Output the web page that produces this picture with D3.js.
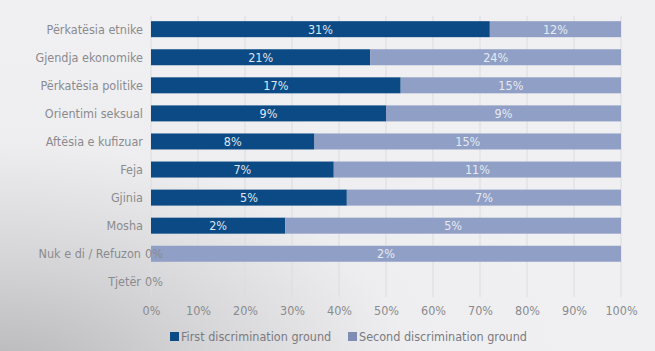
<!DOCTYPE html>
<html><head><meta charset="utf-8">
<script src="https://cdn.jsdelivr.net/npm/d3@7"></script>
<style>
html,body{margin:0;padding:0;background:#efeff1;}
svg{display:block;}
text{font-family:"Liberation Sans Narrow","DejaVu Sans Condensed","Roboto Condensed",sans-serif;}
</style></head>
<body>
<svg id="c" width="655" height="351"></svg>
<script>
const categories = ["Përkatësia etnike","Gjendja ekonomike","Përkatësia politike","Orientimi seksual","Aftësia e kufizuar","Feja","Gjinia","Mosha","Nuk e di / Refuzon","Tjetër"];
const firstGround = [31,21,17,9,8,7,5,2,0,0];
const secondGround = [12,24,15,9,15,11,7,5,2,0];
const seriesNames = ["First discrimination ground","Second discrimination ground"];
const xTicks = [0,10,20,30,40,50,60,70,80,90,100];
const colors = ["#0b4a85","#909fc5"];

const W = 655, H = 351;
const svg = d3.select("#c");
const defs = svg.append("defs");
const rg = defs.append("radialGradient").attr("id","vig").attr("cx","0").attr("cy","1").attr("r","0.9")
  .attr("gradientTransform","scale(1,1.1)");
rg.append("stop").attr("offset","0").attr("stop-color","#b4b4b6");
rg.append("stop").attr("offset","0.35").attr("stop-color","#d4d4d6");
rg.append("stop").attr("offset","0.7").attr("stop-color","#eeeef0");
rg.append("stop").attr("offset","1").attr("stop-color","#f0f0f2");
svg.append("rect").attr("width",W).attr("height",H).attr("fill","url(#vig)");

const x = d3.scaleLinear().domain([0,100]).range([151,621]);
const y = d3.scaleBand().domain(categories).range([15,296]).paddingInner(0.43).paddingOuter(0.22);

// gridlines
svg.append("g").selectAll("line").data(xTicks).join("line")
  .attr("x1",d=>x(d)).attr("x2",d=>x(d)).attr("y1",16).attr("y2",297)
  .attr("stroke","#dcdce0").attr("stroke-width",1);

const rows = categories.map((c,i)=>{
  const tot = firstGround[i]+secondGround[i];
  const p1 = tot? firstGround[i]/tot*100 : 0;
  const p2 = tot? secondGround[i]/tot*100 : 0;
  return {c, a:firstGround[i], b:secondGround[i], p1, p2, tot};
});

const g = svg.append("g");
g.selectAll("rect.f").data(rows.filter(r=>r.tot>0 && r.p1>0)).join("rect").attr("class","f")
  .attr("x",x(0)).attr("y",d=>y(d.c)).attr("width",d=>x(d.p1)-x(0)).attr("height",y.bandwidth())
  .attr("fill",colors[0]);
g.selectAll("rect.s").data(rows.filter(r=>r.tot>0)).join("rect").attr("class","s")
  .attr("x",d=>x(d.p1)).attr("y",d=>y(d.c)).attr("width",d=>x(100)-x(d.p1)).attr("height",y.bandwidth())
  .attr("fill",colors[1]);

g.selectAll("text.fl").data(rows.filter(r=>r.a>0)).join("text").attr("class","fl")
  .attr("x",d=>x(d.p1/2)).attr("y",d=>y(d.c)+y.bandwidth()/2+4.5)
  .attr("text-anchor","middle").attr("font-size",12.5).attr("fill","#dfe6f0")
  .text(d=>d.a+"%");
g.selectAll("text.sl").data(rows.filter(r=>r.b>0)).join("text").attr("class","sl")
  .attr("x",d=>x(d.p1+d.p2/2)).attr("y",d=>y(d.c)+y.bandwidth()/2+4.5)
  .attr("text-anchor","middle").attr("font-size",12.5).attr("fill","#e6eaf3")
  .text(d=>d.b+"%");
g.selectAll("text.z").data(rows.filter(r=>r.a===0)).join("text").attr("class","z")
  .attr("x",x(0)-6).attr("y",d=>y(d.c)+y.bandwidth()/2+4.5)
  .attr("text-anchor","start").attr("font-size",12.5).attr("fill","#8a8a8e")
  .text(d=>d.a+"%");

svg.append("g").selectAll("text").data(rows).join("text")
  .attr("x",d=>d.a===0? x(0)-10 : x(0)-8).attr("y",d=>y(d.c)+y.bandwidth()/2+4.5)
  .attr("text-anchor","end").attr("font-size",12.5).attr("fill","#8a8a8e")
  .text(d=>d.c);

const xAxis = d3.axisBottom(x).tickValues(xTicks).tickFormat(d=>d+"%").tickSize(0).tickPadding(0);
const ax = svg.append("g").attr("transform","translate(0,306)").call(xAxis);
ax.select(".domain").remove();
ax.selectAll("text").attr("font-size",12.5).attr("fill","#8a8a8e")
  .style("font-family",'"Liberation Sans Narrow","DejaVu Sans Condensed",sans-serif');

const leg = svg.append("g").attr("transform","translate(170,332)");
const items = [{n:seriesNames[0],c:colors[0],x:0},{n:seriesNames[1],c:"#7f8db5",x:178}];
items.forEach(it=>{
  leg.append("rect").attr("x",it.x).attr("y",0).attr("width",9).attr("height",9).attr("fill",it.c);
  leg.append("text").attr("x",it.x+11).attr("y",9).attr("font-size",12.5).attr("fill","#7a7a80").text(it.n);
});
</script>
</body></html>
